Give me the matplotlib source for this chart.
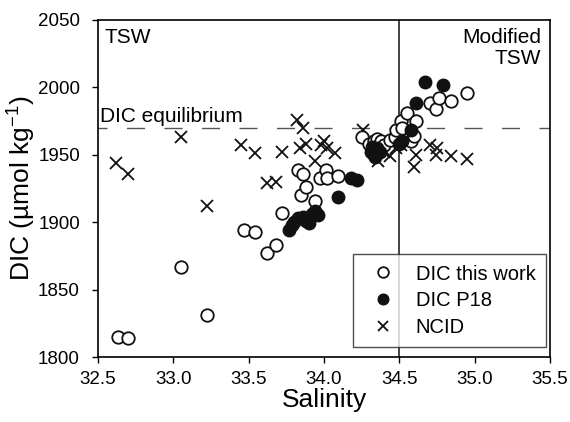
import matplotlib

matplotlib.use("Agg")
import matplotlib.pyplot as plt
import numpy as np

plt.rcParams["font.family"] = ["Liberation Sans", "DejaVu Sans"]
plt.rcParams["mathtext.default"] = "regular"

# DIC this work (open circles)
sal_work = [32.63, 32.70, 33.05, 33.22, 33.47, 33.54, 33.62, 33.68, 33.72, 33.85,
            33.88, 33.94, 33.83, 33.86, 33.97, 34.01, 34.02, 34.09, 34.25, 34.30,
            34.33, 34.35, 34.38, 34.40, 34.44, 34.47, 34.48, 34.51, 34.52, 34.55,
            34.58, 34.60, 34.61, 34.70, 34.74, 34.76, 34.84, 34.95]
dic_work = [1815, 1814, 1867, 1831, 1894, 1893, 1877, 1883, 1907, 1920,
            1926, 1916, 1939, 1936, 1933, 1939, 1933, 1934, 1963, 1958,
            1960, 1962, 1960, 1957, 1961, 1963, 1968, 1975, 1970, 1981,
            1960, 1964, 1975, 1988, 1984, 1992, 1990, 1996]

# DIC P18 (filled circles)
sal_p18 = [33.77, 33.79, 33.80, 33.83, 33.86, 33.88, 33.90, 33.92, 33.94, 33.96,
           34.09, 34.18, 34.22, 34.31, 34.32, 34.33, 34.34, 34.35, 34.37, 34.50,
           34.52, 34.58, 34.61, 34.67, 34.79]
dic_p18 = [1894, 1898, 1900, 1903, 1904, 1901, 1899, 1906, 1908, 1905,
           1919, 1933, 1931, 1952, 1956, 1950, 1948, 1955, 1952, 1958,
           1960, 1968, 1988, 2004, 2002]

# NCID (crosses)
sal_ncid = [32.62, 32.70, 33.05, 33.22, 33.45, 33.54, 33.62, 33.68, 33.72, 33.82,
            33.86, 33.84, 33.88, 33.94, 33.98, 34.00, 34.02, 34.07, 34.26, 34.34,
            34.36, 34.40, 34.44, 34.48, 34.51, 34.60, 34.61, 34.70, 34.74, 34.75,
            34.84, 34.95]
dic_ncid = [1944, 1936, 1963, 1912, 1957, 1951, 1929, 1930, 1952, 1976,
            1970, 1955, 1958, 1945, 1957, 1960, 1955, 1951, 1968, 1955,
            1945, 1952, 1949, 1955, 1957, 1941, 1950, 1957, 1950, 1955,
            1949, 1947]

dic_equilibrium = 1970
tsw_boundary = 34.5
x_ticks = np.arange(32.5, 35.51, 0.5)
y_ticks = np.arange(1800, 2051, 50)

fig = plt.figure(figsize=(5.7, 4.22), dpi=100)
ax = fig.add_axes([0.172, 0.154, 0.793, 0.799])

ax.axhline(dic_equilibrium, color="#555555", lw=1.0, ls=(6.5, (13, 14)), zorder=1)
ax.axvline(tsw_boundary, color="#222222", lw=1.2, zorder=1)

ax.plot(sal_work, dic_work, "o", ms=9, mfc="white", mec="#111111", mew=1.3,
        ls="none", label="DIC this work", zorder=3)
ax.plot(sal_p18, dic_p18, "o", ms=9, mfc="#111111", mec="#111111", mew=1.0,
        ls="none", label="DIC P18", zorder=4)
ax.plot(sal_ncid, dic_ncid, "x", ms=8, mec="#111111", mew=1.3,
        ls="none", label="NCID", zorder=2)

ax.set_xlim(32.5, 35.5)
ax.set_ylim(1800, 2050)
ax.set_xticks(x_ticks)
ax.set_xticklabels([f"{t:.1f}" for t in x_ticks])
ax.set_yticks(y_ticks)
ax.tick_params(direction="out", length=4, width=1.0, labelsize=13.5)
ax.tick_params(axis="y", pad=9)
ax.tick_params(axis="x", pad=6)
for s in ax.spines.values():
    s.set_linewidth(1.2)

ax.set_xlabel("Salinity", fontsize=19, labelpad=0)
ax.set_ylabel("DIC (\u00b5mol kg$^{-1}$)", fontsize=19, labelpad=0)

ax.text(0.014, 0.975, "TSW", transform=ax.transAxes, fontsize=15,
        ha="left", va="top")
ax.text(0.98, 0.975, "Modified\nTSW", transform=ax.transAxes, fontsize=15,
        ha="right", va="top", multialignment="right", linespacing=1.1)
ax.text(32.51, dic_equilibrium + 1.5, "DIC equilibrium", fontsize=15,
        ha="left", va="bottom")

leg = ax.legend(loc="lower right", fontsize=14.5, frameon=True, fancybox=False,
                edgecolor="#222222", borderpad=0.5, handletextpad=0.6,
                labelspacing=0.38, markerscale=0.85, borderaxespad=0,
                bbox_to_anchor=(0.99, 0.03))
leg.get_frame().set_linewidth(1.0)

fig.savefig("out.png", dpi=100)
